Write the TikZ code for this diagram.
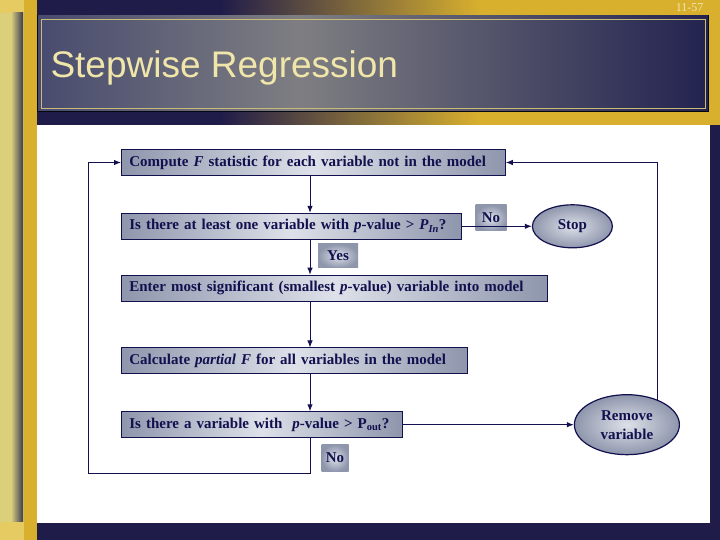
\documentclass[tikz,border=0pt]{standalone}
\usepackage{fontspec}
\setmainfont{Liberation Serif}
\newfontfamily\headfont{Liberation Sans}
\usetikzlibrary{
  arrows.meta,
  positioning,
  shapes.geometric
}
\definecolor{navy}{HTML}{201C4A}
\definecolor{gold}{HTML}{D8B02E}
\definecolor{goldpale}{HTML}{E6CA62}
\definecolor{straw}{HTML}{DCCF7C}
\definecolor{dusk}{HTML}{3A3A52}
\definecolor{ink}{HTML}{12104E}
\definecolor{slate}{HTML}{8E96AC}
\definecolor{mist}{HTML}{DEE1E9}
\definecolor{titlegrey}{HTML}{7E7E82}
\definecolor{titleleft}{HTML}{484B6E}
\definecolor{titleright}{HTML}{232350}
\definecolor{cream}{HTML}{F0E6AA}
\definecolor{frame}{HTML}{C9BC78}
\newcommand{\pin}{\textit{P}\textsubscript{\textit{In}}}
\newcommand{\pout}{P\textsubscript{out}}
\tikzset{
  flow/.style={
    -{Latex[length=7pt,width=5.5pt]},
    line width=1pt,
    draw=ink
  },
  stepbox/.style={
    draw=ink,
    line width=0.8pt,
    left color=slate,
    right color=slate,
    middle color=mist,
    minimum height=26pt,
    inner xsep=8pt,
    align=left,
    text=ink,
    font=\fontsize{15}{17}\selectfont\bfseries
  },
  endoval/.style={
    ellipse,
    draw=ink,
    line width=1.2pt,
    inner color=mist,
    outer color=slate,
    inner sep=0pt,
    align=center,
    text=ink,
    font=\fontsize{15}{19}\selectfont\bfseries
  },
  tag/.style={
    inner color=mist,
    outer color=slate,
    inner sep=0pt,
    text=ink,
    font=\fontsize{15}{17}\selectfont\bfseries
  }
}
\begin{document}
\begin{tikzpicture}[x=1pt,y=1pt]
  \useasboundingbox (0,0) rectangle (720,540);
  % slide frame
  \fill[goldpale] (0,0) rectangle (24,540);
  \fill[straw] (0,18) rectangle (11,527);
  \shade[left color=straw, right color=dusk] (11,18) rectangle (23,527);
  \fill[gold] (24,0) rectangle (720,540);
  \fill[navy] (37,524) rectangle (220,540);
  \shade[left color=navy, right color=gold] (220,524) rectangle (480,540);
  \fill[navy] (37,415) rectangle (220,429);
  \shade[left color=navy, right color=gold] (220,415) rectangle (480,429);
  \fill[black!80!navy] (37,428) rectangle (709,525);
  \shade[left color=titleleft, right color=titlegrey] (38,429) rectangle (300,524);
  \shade[left color=titlegrey, right color=titleright] (300,429) rectangle (708,524);
  \draw[frame, line width=0.8pt] (41,432) rectangle (705,521);
  \node[anchor=base west, text=cream, font=\headfont\fontsize{37}{42}\selectfont]
    (title) at (47,462) {Stepwise Regression};
  \node[anchor=base east, text=cream, font=\fontsize{12}{14}\selectfont]
    (pageno) at (707,528) {11-57};
  \fill[white] (37,17) rectangle (710,415);
  \fill[navy] (710,0) rectangle (720,415);
  \fill[navy] (37,0) rectangle (720,17);
  % flow chart
  \coordinate (spine) at (310,0);
  \node[stepbox, text width=368pt, anchor=west] (compute) at (121,377.5)
    {Compute \textit{F} statistic for each variable not in the model};
  \node[stepbox, text width=324pt, below=37pt of compute.south west, anchor=north west] (askin)
    {Is there at least one variable with \textit{p}-value \textgreater{} \pin?};
  \node[stepbox, text width=410pt, below=35pt of askin.south west, anchor=north west] (enter)
    {Enter most significant (smallest \textit{p}-value) variable into model};
  \node[stepbox, text width=330pt, below=46pt of enter.south west, anchor=north west] (partial)
    {Calculate \textit{partial F} for all variables in the model};
  \node[stepbox, text width=265pt, below=37pt of partial.south west, anchor=north west] (askout)
    {Is there a variable with \ \textit{p}-value \textgreater{} \pout?};
  \node[endoval, minimum width=80pt, minimum height=43pt, right=70pt of askin] (stop) {Stop};
  \node[endoval, minimum width=105pt, minimum height=60pt, right=171pt of askout] (remove)
    {Remove\\variable};
  \node[tag, minimum width=31pt, minimum height=26pt] (noin) at (491,322) {No};
  \node[tag, minimum width=40pt, minimum height=24pt] (yes) at (338,284) {Yes};
  \node[tag, minimum width=27pt, minimum height=27pt] (noout) at (335,82) {No};
  \coordinate (back) at (88,66);
  \draw[flow] (compute.south -| spine) -- (askin.north -| spine);
  \draw[flow] (askin.south -| spine) -- (enter.north -| spine);
  \draw[flow] (enter.south -| spine) -- (partial.north -| spine);
  \draw[flow] (partial.south -| spine) -- (askout.north -| spine);
  \draw[flow] (askin) -- (stop);
  \draw[flow] (askout.east) -- (askout.east -| remove.west);
  \draw[flow] (askout.south -| spine) |- (back) |- (compute.west);
  \draw[flow] (remove.39) |- (compute.east);
\end{tikzpicture}
\end{document}
